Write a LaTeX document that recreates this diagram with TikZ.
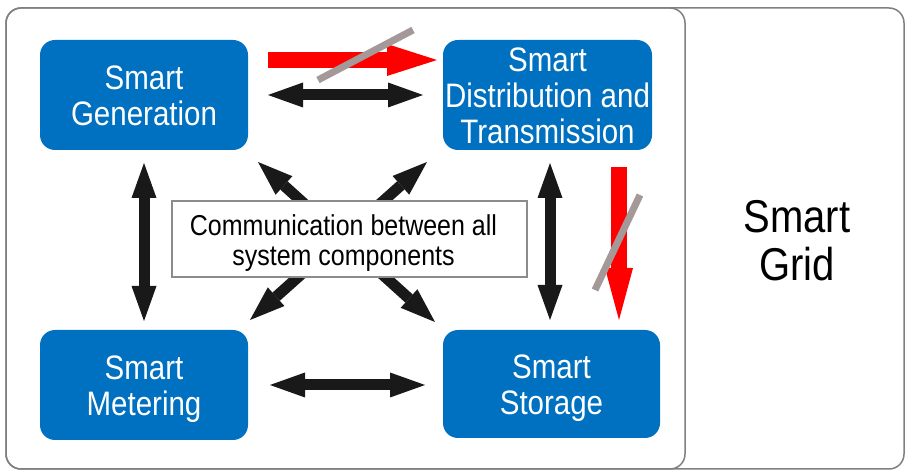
\documentclass[tikz,border=0pt]{standalone}
\usepackage{fontspec}
\setmainfont{Liberation Sans}
\usetikzlibrary{arrows.meta}
\definecolor{sgblue}{RGB}{0,112,192}
\definecolor{framegray}{RGB}{128,128,128}
\definecolor{boxgray}{RGB}{140,140,140}
\definecolor{slashgray}{RGB}{165,152,152}
\definecolor{arrblack}{RGB}{25,25,25}
\newcommand{\tallt}[1]{\raisebox{-5.5pt}[\height][\depth]{\scalebox{1}[1.15]{\begin{tabular}{@{}c@{}}#1\end{tabular}}}}
\begin{document}
\begin{tikzpicture}[x=1pt,y=-1pt,
  comp/.style={rectangle, rounded corners=15pt, fill=sgblue, text=white,
    inner sep=0pt, align=center, font=\fontsize{29.5}{31.3}\selectfont},
  blk/.style={draw=arrblack, line width=11pt,
    {Triangle[length=35pt,width=25pt,line width=0pt]}-{Triangle[length=35pt,width=25pt,line width=0pt]}},
  redarr/.style={draw=red, line width=16pt},
  slash/.style={draw=slashgray, line width=7pt},
  frame/.style={draw=framegray, line width=1.5pt, rounded corners=15pt}]
\useasboundingbox (0,0) rectangle (906,470);
\fill[white] (0,0) rectangle (906,470);
% frames
\draw[frame] (6,8) rectangle (904,469);
\draw[frame] (6,8) rectangle (685,469);
% components
\node[comp, minimum width=208pt, minimum height=110pt] (gen) at (144,95) {\tallt{Smart\\Generation}};
\node[comp, minimum width=209pt, minimum height=110pt] (dist) at (547.5,95) {\tallt{Smart\\Distribution and\\Transmission}};
\node[comp, minimum width=208pt, minimum height=110pt] (met) at (144,385) {\tallt{Smart\\Metering}};
\node[comp, minimum width=217pt, minimum height=108pt] (sto) at (551.5,384) {\tallt{Smart\\Storage}};
\node[font=\fontsize{40}{42}\selectfont, align=center, inner sep=0pt] (grid) at (797,241) {\tallt{Smart\\Grid}};
% arrow end points
\coordinate (r1s) at (268,60);  \coordinate (r1e) at (437,60);
\coordinate (r2s) at (619,167); \coordinate (r2e) at (619,320);
\coordinate (s1a) at (318,80);  \coordinate (s1b) at (413,30);
\coordinate (s2a) at (595,290); \coordinate (s2b) at (640,195);
\coordinate (tA) at (268,95);   \coordinate (tB) at (423,95);
\coordinate (bA) at (270,385);  \coordinate (bB) at (425,385);
\coordinate (lA) at (144,163);  \coordinate (lB) at (144,321);
\coordinate (vA) at (550,163);  \coordinate (vB) at (550,320);
\coordinate (d1a) at (258,162); \coordinate (d1b) at (435,322);
\coordinate (d2a) at (427,162); \coordinate (d2b) at (250,320);
% red flow arrows with slashes
\draw[redarr, -{Triangle[length=50pt,width=32pt,line width=0pt]}] (r1s) -- (r1e);
\draw[slash] (s1a) -- (s1b);
\draw[redarr, -{Triangle[length=52pt,width=28pt,line width=0pt]}] (r2s) -- (r2e);
\draw[slash] (s2a) -- (s2b);
% black communication arrows
\draw[blk] (tA) -- (tB);
\draw[blk] (bA) -- (bB);
\draw[blk] (lA) -- (lB);
\draw[blk] (vA) -- (vB);
\draw[blk] (d1a) -- (d1b);
\draw[blk] (d2a) -- (d2b);
% central box on top
\node[draw=boxgray, line width=2pt, fill=white, minimum width=355pt, minimum height=76pt,
  align=center, inner sep=0pt, font=\fontsize{25}{26}\selectfont] (comm) at (349.5,239)
  {\hspace*{-12pt}\tallt{Communication between all\\system components}};
\end{tikzpicture}
\end{document}
